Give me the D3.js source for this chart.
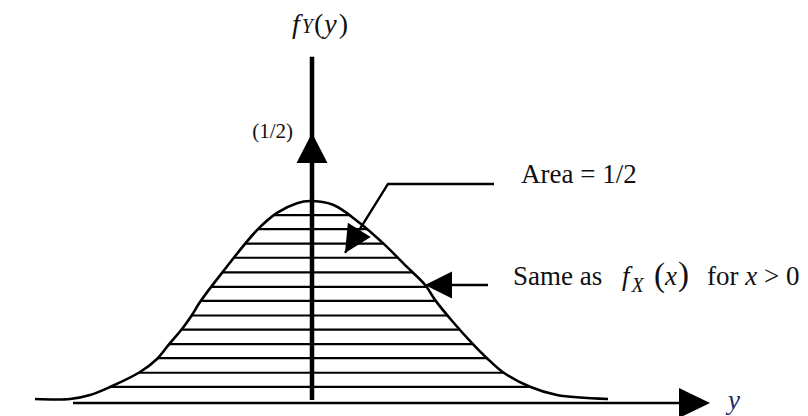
<!DOCTYPE html>
<html>
<head>
<meta charset="utf-8">
<script src="https://cdn.jsdelivr.net/npm/d3@7"></script>
<style>
  html, body { margin: 0; padding: 0; background: #fff; }
</style>
</head>
<body>
<div id="chart"></div>
<script>
// 曲线采样点
const curveX = [-2.77, -2.42, -2.22, -2.02, -1.72, -1.55, -1.42, -1.30, -1.20, -1.12, -0.90, -0.55, -0.35, -0.15, -0.02,
  0.21, 0.48, 0.71, 0.95, 1.13, 1.23, 1.41, 1.60, 1.75, 1.91, 2.18, 2.45, 2.96];
const curveD = [0.0074, 0.0074, 0.0148, 0.0296, 0.0574, 0.0815, 0.111, 0.137, 0.163, 0.187, 0.241, 0.320, 0.352, 0.370, 0.374,
  0.367, 0.333, 0.296, 0.252, 0.219, 0.191, 0.150, 0.111, 0.083, 0.057, 0.030, 0.0148, 0.0074];
// 阴影横线的高度
const hatchLevels = [0.030, 0.056, 0.083, 0.109, 0.136, 0.162, 0.189, 0.215, 0.242, 0.269, 0.295, 0.322, 0.348];
// 冲激函数 (1/2)
const impulseX = 0;
const impulseWeight = 0.5;
const impulseLabel = '(1/2)';
// 坐标轴范围
const axisXRange = [-2.39, 3.98];
const axisYRange = [0.0056, 0.641];

const width = 808, height = 416;
const serif = '"Liberation Serif", "Times New Roman", Times, "DejaVu Serif", serif';

const x = d3.scaleLinear().domain([-3, 4]).range([12, 712]);
const y = d3.scaleLinear().domain([0, 0.5]).range([403, 133]);

const svg = d3.select('#chart')
  .append('svg')
  .attr('width', width)
  .attr('height', height)
  .attr('font-family', serif);

const points = curveX.map((v, i) => [v, curveD[i]]);

// 箭头三角形
function arrowHead(tip, from, len, half) {
  const dx = tip[0] - from[0], dy = tip[1] - from[1];
  const l = Math.hypot(dx, dy);
  const ux = dx / l, uy = dy / l;
  const bx = tip[0] - ux * len, by = tip[1] - uy * len;
  return [[tip[0], tip[1]], [bx - uy * half, by + ux * half], [bx + uy * half, by - ux * half]];
}
function drawArrowHead(tip, from, len, half) {
  svg.append('polygon')
    .attr('points', arrowHead(tip, from, len, half).map(p => p.join(',')).join(' '))
    .attr('fill', '#000');
}
function addText(xp, yp, size) {
  return svg.append('text')
    .attr('x', xp)
    .attr('y', yp)
    .attr('font-family', serif)
    .attr('font-size', size)
    .attr('fill', '#111');
}

// 曲线下方区域裁剪
const area = d3.area()
  .x(d => x(d[0]))
  .y0(y(0))
  .y1(d => y(d[1]))
  .curve(d3.curveCatmullRom);

svg.append('clipPath')
  .attr('id', 'under')
  .append('path')
  .attr('d', area(points));

// 横线阴影
svg.append('g')
  .attr('clip-path', 'url(#under)')
  .selectAll('line')
  .data(hatchLevels)
  .enter().append('line')
  .attr('x1', x(-3))
  .attr('x2', x(4))
  .attr('y1', d => y(d))
  .attr('y2', d => y(d))
  .attr('stroke', '#000')
  .attr('stroke-width', 2.2);

// 曲线
const line = d3.line()
  .x(d => x(d[0]))
  .y(d => y(d[1]))
  .curve(d3.curveCatmullRom);

svg.append('path')
  .attr('d', line(points))
  .attr('fill', 'none')
  .attr('stroke', '#000')
  .attr('stroke-width', 2.6);

// 横轴
svg.append('line')
  .attr('x1', x(axisXRange[0]))
  .attr('x2', x(axisXRange[1]) - 20)
  .attr('y1', y(0))
  .attr('y2', y(0))
  .attr('stroke', '#000')
  .attr('stroke-width', 2.6);
drawArrowHead([x(axisXRange[1]), y(0)], [x(0), y(0)], 31, 15);

// 纵轴（冲激线）
svg.append('line')
  .attr('x1', x(impulseX))
  .attr('x2', x(impulseX))
  .attr('y1', y(axisYRange[0]))
  .attr('y2', y(axisYRange[1]))
  .attr('stroke', '#000')
  .attr('stroke-width', 4.5);
drawArrowHead([x(impulseX), y(impulseWeight)], [x(impulseX), y(0)], 30, 15.5);

addText(x(impulseX) - 19, y(impulseWeight) + 5, 21)
  .attr('text-anchor', 'end')
  .text(impulseLabel);

// 纵轴标签 fY(y)
const yl = addText(x(-0.2), 33, 28);
yl.append('tspan').attr('font-style', 'italic').text('f');
yl.append('tspan').attr('font-style', 'italic').attr('font-size', 20).attr('dx', 2).text('Y');
yl.append('tspan').attr('dx', 1).text('(');
yl.append('tspan').attr('dx', 1).attr('font-style', 'italic').text('y');
yl.append('tspan').attr('dx', 2).text(')');

// 横轴标签
addText(x(4.16), y(-0.012), 27)
  .attr('font-style', 'italic')
  .attr('fill', '#1a2a6a')
  .text('y');

// 注释：Area = 1/2
const a1 = [[0.76, 0.4056], [1.82, 0.4056]];
const a1Tip = [0.33, 0.278];
svg.append('polyline')
  .attr('points', [[a1Tip[0], a1Tip[1]], ...a1].map(p => [x(p[0]), y(p[1])].join(',')).reverse().join(' '))
  .attr('fill', 'none')
  .attr('stroke', '#000')
  .attr('stroke-width', 2.4);
drawArrowHead([x(a1Tip[0]), y(a1Tip[1])], [x(a1[0][0]), y(a1[0][1])], 27, 13.5);

addText(x(2.09), y(0.407), 27).text('Area = 1/2');

// 注释：Same as fX(x) for x > 0
const a2Tip = [1.13, 0.2185];
const a2End = [1.76, 0.2185];
svg.append('line')
  .attr('x1', x(a2Tip[0]) + 20)
  .attr('x2', x(a2End[0]))
  .attr('y1', y(a2Tip[1]))
  .attr('y2', y(a2End[1]))
  .attr('stroke', '#000')
  .attr('stroke-width', 2.6);
drawArrowHead([x(a2Tip[0]), y(a2Tip[1])], [x(a2End[0]), y(a2End[1])], 27, 13.5);

const tx = x(2.01);
const t2 = addText(tx, y(0.218), 27);
t2.append('tspan').text('Same as');
t2.append('tspan').attr('x', tx + 109).attr('font-style', 'italic').text('f');
t2.append('tspan').attr('dx', 2).attr('dy', 7).attr('font-style', 'italic').attr('font-size', 20).text('X');
t2.append('tspan').attr('x', tx + 141).attr('dy', -6).attr('font-size', 33).text('(');
t2.append('tspan').attr('dy', -1).attr('font-style', 'italic').text('x');
t2.append('tspan').attr('dx', 1).attr('font-size', 33).text(')');
t2.append('tspan').attr('x', tx + 194).text('for ');
t2.append('tspan').attr('font-style', 'italic').text('x');
t2.append('tspan').text(' > 0');
</script>
</body>
</html>
